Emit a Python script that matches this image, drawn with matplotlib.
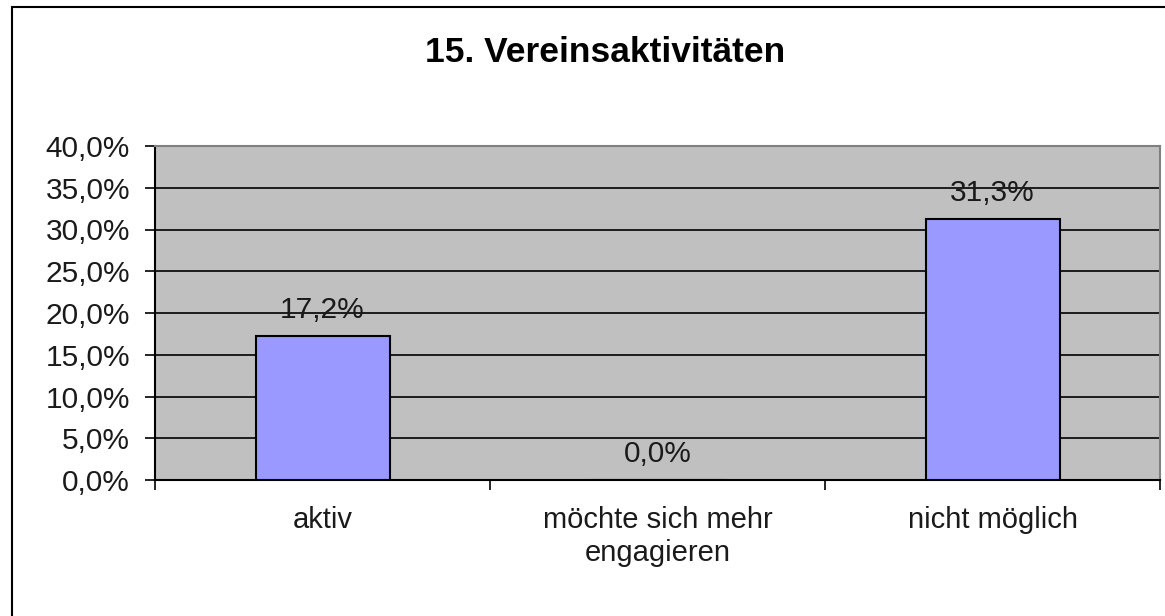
"""Vereinsaktivitäten: Excel-style bar chart recreated with matplotlib."""

import matplotlib
matplotlib.use("Agg")
import matplotlib.pyplot as plt
from matplotlib.patches import Rectangle
from matplotlib.ticker import FuncFormatter, FixedLocator

TITLE = "15. Vereinsaktivitäten"
CATEGORIES = ["aktiv", "möchte sich mehr\nengagieren", "nicht möglich"]
VALUES = [17.2, 0.0, 31.3]
Y_TICKS = [0, 5, 10, 15, 20, 25, 30, 35, 40]

BAR_COLOR = "#9999FF"
PLOT_BG = "#C0C0C0"

plt.rcParams["font.family"] = ["Liberation Sans", "DejaVu Sans"]


def pct(v: float) -> str:
    return f"{v:.1f}%".replace(".", ",")


fig = plt.figure(figsize=(11.65, 6.16), dpi=100)
W, H = 1165, 616

# outer chart border (only left/top edges visible in the crop)
fig.patches.append(Rectangle((12 / W, -0.1), 1.2, 1 - 7 / H + 0.1,
                             transform=fig.transFigure, fill=False,
                             edgecolor="black", linewidth=1.5))

ax = fig.add_axes([155 / W, 1 - 480 / H, (1160 - 155) / W, (480 - 146) / H])
ax.set_facecolor(PLOT_BG)

x = range(len(CATEGORIES))
ax.bar(x, VALUES, width=0.4, color=BAR_COLOR, edgecolor="black",
       linewidth=1.5, zorder=3)
for xi, v in zip(x, VALUES):
    ax.annotate(pct(v), (xi, v), xytext=(0, 13), textcoords="offset points",
                ha="center", va="baseline", fontsize=21.5, color="#1a1a1a",
                zorder=4)

ax.set_xlim(-0.5, len(CATEGORIES) - 0.5)
ax.set_ylim(0, 40)
ax.yaxis.set_major_locator(FixedLocator(Y_TICKS))
ax.yaxis.set_major_formatter(FuncFormatter(lambda v, _: pct(v)))
ax.grid(axis="y", color="black", linewidth=1.2, zorder=1)
ax.set_axisbelow(True)

# category labels centred, tick marks at category boundaries
ax.set_xticks(list(x))
ax.set_xticklabels(CATEGORIES, fontsize=21, color="#1a1a1a", linespacing=1.22)
ax.tick_params(axis="x", length=0, pad=19)
ax.set_xticks([i - 0.5 for i in range(len(CATEGORIES) + 1)], minor=True)
ax.tick_params(axis="x", which="minor", length=7, width=1.2, direction="out")
ax.tick_params(axis="y", length=7, width=1.2, direction="out",
               labelsize=21.5, labelcolor="#1a1a1a", pad=11)

for side in ("left", "bottom"):
    ax.spines[side].set_color("black")
    ax.spines[side].set_linewidth(1.5)
for side in ("top", "right"):
    ax.spines[side].set_color("#808080")
    ax.spines[side].set_linewidth(1.5)

fig.text(605 / W, 1 - 52 / H, TITLE, ha="center", va="center",
         fontsize=25.5, fontweight="bold", color="black")

fig.savefig("out.png", dpi=100, facecolor="white")
